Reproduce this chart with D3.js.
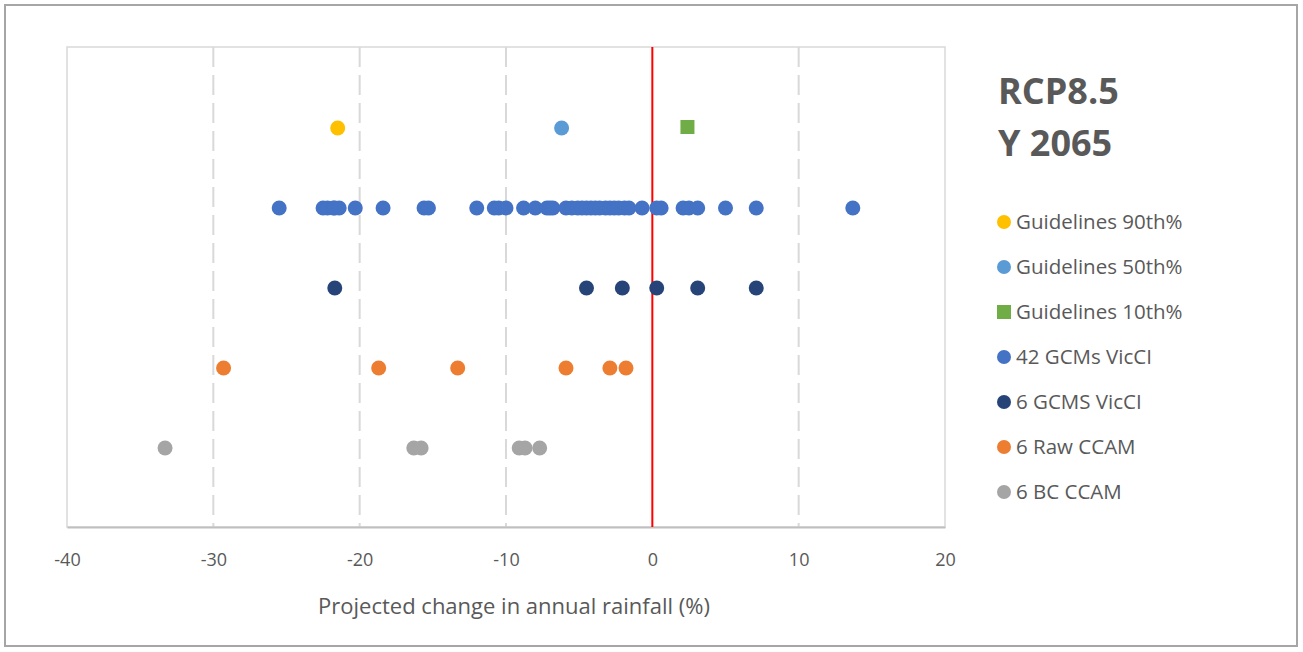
<!DOCTYPE html>
<html><head><meta charset="utf-8">
<script src="https://cdn.jsdelivr.net/npm/d3@7"></script>
<style>body{margin:0;background:#fff;}svg{display:block;font-family:"Open Sans",sans-serif;}</style>
</head><body>
<svg id="c" width="1303" height="652"></svg>
<script>
const seriesNames = ["Guidelines 90th%","Guidelines 50th%","Guidelines 10th%","42 GCMs VicCI","6 GCMS VicCI","6 Raw CCAM","6 BC CCAM"];
const seriesColors = ["#FFC000","#5B9BD5","#70AD47","#4472C4","#264478","#ED7D31","#A5A5A5"];
const seriesRow = [5,5,5,4,3,2,1];
const guide90 = [-21.5];
const guide50 = [-6.2];
const guide10 = [2.4];
const gcm42 = [-25.5,-22.5,-22.2,-21.8,-21.7,-21.4,-20.3,-18.4,-15.6,-15.3,-12.0,-10.8,-10.5,-10.0,-8.8,-8.0,-7.2,-7.0,-6.8,-5.9,-5.5,-5.1,-4.8,-4.5,-4.2,-3.9,-3.6,-3.2,-2.9,-2.6,-2.3,-1.9,-1.6,-0.7,0.3,0.6,2.1,2.5,3.1,5.0,7.1,13.7];
const gcm6 = [-21.7,-4.5,-2.05,0.3,3.1,7.1];
const rawCcam = [-29.3,-18.7,-13.3,-5.9,-2.9,-1.8];
const bcCcam = [-33.3,-16.3,-15.8,-9.1,-8.7,-7.7];
const xTicks = [-40,-30,-20,-10,0,10,20];
const titleLines = ["RCP8.5","Y 2065"];
const xTitle = "Projected change in annual rainfall (%)";
const seriesValues = [guide90,guide50,guide10,gcm42,gcm6,rawCcam,bcCcam];

const svg = d3.select("#c");
svg.append("rect").attr("x",5).attr("y",5).attr("width",1292).attr("height",641)
  .attr("fill","#fff").attr("stroke","#a6a6a6").attr("stroke-width",2);

const L=67,R=945,T=47,B=527;
const x = d3.scaleLinear().domain([-40,20]).range([L,R]);
const y = d3.scaleLinear().domain([0,6]).range([B,T]);

svg.append("rect").attr("x",L).attr("y",T).attr("width",R-L).attr("height",B-T)
  .attr("fill","none").attr("stroke","#d9d9d9").attr("stroke-width",1.5);

// gridlines
svg.append("g").selectAll("line").data(xTicks.filter(d=>d!==0 && d!==-40 && d!==20)).join("line")
  .attr("x1",d=>x(d)).attr("x2",d=>x(d)).attr("y1",T).attr("y2",B)
  .attr("stroke","#d9d9d9").attr("stroke-width",2).attr("stroke-dasharray","20,8");

// bottom axis
const ax = svg.append("g").attr("transform",`translate(0,${B})`)
  .call(d3.axisBottom(x).tickValues(xTicks).tickSize(0).tickPadding(26).tickFormat(d=>String(d)));
ax.select(".domain").attr("stroke","#bfbfbf").attr("stroke-width",2);
ax.selectAll("text").attr("fill","#595959").attr("font-size",18).attr("font-family","'Open Sans',sans-serif");

// zero line
svg.append("line").attr("x1",x(0)).attr("x2",x(0)).attr("y1",T).attr("y2",B)
  .attr("stroke","#FF0000").attr("stroke-width",2);

// points
seriesValues.forEach((vals,i)=>{
  const g = svg.append("g");
  if (i===2) {
    g.selectAll("rect").data(vals).join("rect")
      .attr("x",d=>x(d)-7).attr("y",y(seriesRow[i])-7).attr("width",14).attr("height",14)
      .attr("fill",seriesColors[i]);
  } else {
    g.selectAll("circle").data(vals).join("circle")
      .attr("cx",d=>x(d)).attr("cy",y(seriesRow[i])+1).attr("r",7.5)
      .attr("fill",seriesColors[i]);
  }
});

// axis title
svg.append("text").attr("x",514).attr("y",614).attr("text-anchor","middle")
  .attr("fill","#595959").attr("font-size",22).attr("font-family","'Open Sans',sans-serif").text(xTitle);

// chart title
titleLines.forEach((t,i)=>{
  svg.append("text").attr("x",998).attr("y",104+i*52).attr("fill","#595959")
    .attr("font-size",36).attr("font-weight","bold").attr("font-family","'Open Sans',sans-serif").text(t);
});

// legend
const lg = svg.append("g");
seriesNames.forEach((n,i)=>{
  const cy = 222+i*45;
  if (i===2) lg.append("rect").attr("x",997).attr("y",cy-7).attr("width",14).attr("height",14).attr("fill",seriesColors[i]);
  else lg.append("circle").attr("cx",1004).attr("cy",cy).attr("r",7).attr("fill",seriesColors[i]);
  lg.append("text").attr("x",1016).attr("y",cy+7).attr("fill","#595959").attr("font-size",20.5)
    .attr("font-family","'Open Sans',sans-serif").text(n);
});
</script>
</body></html>
